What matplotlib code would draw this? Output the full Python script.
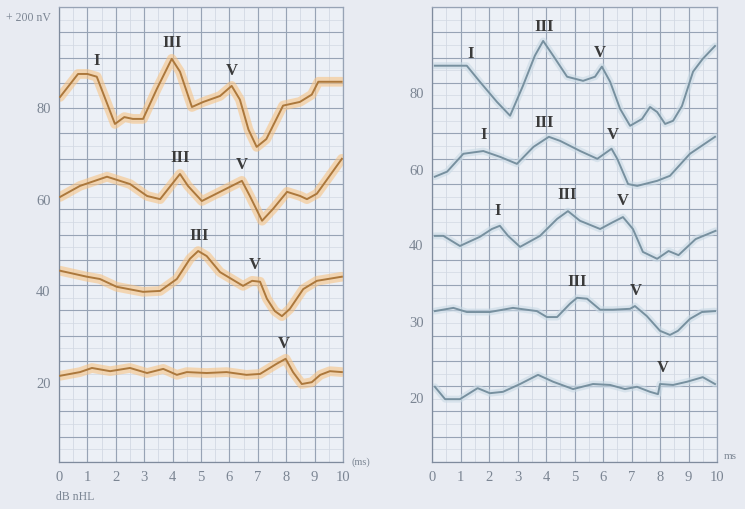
import numpy as np
import matplotlib
matplotlib.use("Agg")
import matplotlib.pyplot as plt

# ---------------- data ----------------
# Left panel (orange traces)
L80_t = [0.04, 0.67, 1.0, 1.33, 1.97, 2.3, 2.6, 2.96, 3.45, 3.97, 4.26, 4.68, 5.08, 5.67, 6.08, 6.37, 6.67, 6.96, 7.3, 7.89, 8.48, 8.9, 9.13, 9.95]
L80_v = [82.2, 87.2, 87.2, 86.6, 76.3, 77.8, 77.4, 77.4, 84.0, 90.5, 87.7, 80.0, 81.1, 82.4, 84.6, 81.6, 75.1, 71.3, 73.0, 80.3, 81.1, 82.7, 85.5, 85.5]
L60_t = [0.04, 0.74, 1.69, 2.5, 3.1, 3.56, 4.26, 4.54, 5.03, 5.67, 6.44, 6.72, 7.15, 7.54, 8.03, 8.49, 8.73, 9.08, 9.96]
L60_v = [60.4, 62.8, 64.8, 63.2, 60.6, 59.9, 65.4, 62.8, 59.5, 61.5, 63.9, 60.6, 55.2, 57.8, 61.5, 60.6, 59.9, 61.1, 68.7]
L40_t = [0.04, 0.98, 1.44, 2.03, 2.96, 3.56, 4.15, 4.61, 4.9, 5.2, 5.67, 6.48, 6.8, 7.08, 7.32, 7.6, 7.85, 8.13, 8.6, 9.08, 9.96]
L40_v = [44.3, 43.0, 42.5, 40.8, 39.7, 39.9, 42.5, 46.9, 48.6, 47.5, 44.0, 41.0, 42.1, 41.9, 38.2, 35.5, 34.4, 36.0, 40.3, 42.1, 43.0]
L20_t = [0.04, 0.74, 1.16, 1.8, 2.5, 3.1, 3.67, 4.15, 4.5, 5.2, 5.9, 6.6, 7.08, 7.66, 7.98, 8.24, 8.55, 8.9, 9.2, 9.54, 9.96]
L20_v = [21.4, 22.2, 23.1, 22.4, 23.1, 22.0, 22.9, 21.6, 22.2, 22.0, 22.2, 21.6, 21.8, 24.0, 25.1, 22.2, 19.6, 20.0, 21.6, 22.4, 22.2]

# Right panel (grey-blue traces)
R80_t = [0.1, 1.22, 1.68, 2.28, 2.74, 3.19, 3.61, 3.9, 4.25, 4.74, 5.3, 5.72, 5.96, 6.25, 6.6, 6.95, 7.37, 7.65, 7.9, 8.18, 8.46, 8.77, 9.16, 9.5, 9.93]
R80_v = [89.0, 89.0, 85.5, 81.1, 78.1, 84.6, 91.2, 94.4, 91.2, 86.6, 85.7, 86.6, 88.8, 85.5, 79.6, 75.9, 77.4, 80.0, 78.9, 76.3, 77.0, 80.2, 87.7, 90.5, 93.3]
R60_t = [0.1, 0.53, 1.1, 1.8, 2.4, 2.98, 3.56, 4.1, 4.5, 5.2, 5.8, 6.3, 6.5, 6.88, 7.2, 7.9, 8.35, 9.05, 9.93]
R60_v = [64.8, 65.9, 69.8, 70.4, 69.1, 67.6, 71.3, 73.5, 72.6, 70.4, 68.7, 70.9, 68.7, 63.2, 62.8, 63.9, 65.0, 69.8, 73.5]
R40_t = [0.1, 0.4, 0.98, 1.68, 2.1, 2.38, 2.67, 3.09, 3.79, 4.39, 4.77, 5.19, 5.9, 6.35, 6.7, 7.05, 7.4, 7.9, 8.3, 8.65, 9.25, 9.95]
R40_v = [51.9, 51.9, 49.7, 51.7, 53.4, 54.1, 51.9, 49.5, 51.9, 55.6, 57.3, 55.2, 53.4, 54.9, 56.0, 53.4, 48.4, 46.9, 48.6, 47.7, 51.2, 53.0]
R30_t = [0.1, 0.75, 1.22, 2.03, 2.84, 3.68, 4.03, 4.39, 4.84, 5.09, 5.44, 5.9, 6.35, 6.95, 7.12, 7.54, 8.0, 8.35, 8.63, 9.05, 9.47, 9.93]
R30_v = [35.5, 36.2, 35.3, 35.3, 36.2, 35.5, 34.2, 34.2, 37.1, 38.4, 38.2, 35.8, 35.8, 36.0, 36.6, 34.4, 31.2, 30.3, 31.2, 33.8, 35.3, 35.5]
R20_t = [0.1, 0.46, 0.98, 1.6, 2.03, 2.49, 3.09, 3.72, 4.25, 4.95, 5.65, 6.25, 6.77, 7.19, 7.65, 7.93, 8.0, 8.46, 8.95, 9.5, 9.93]
R20_v = [19.0, 16.3, 16.3, 18.7, 17.6, 17.9, 19.6, 21.6, 20.1, 18.5, 19.6, 19.4, 18.5, 19.0, 17.9, 17.4, 19.6, 19.4, 20.1, 21.1, 19.6]

# Peak labels: (name, latency in ms)
L80_peaks = [("I", 1.33), ("III", 3.97), ("V", 6.1)]
L60_peaks = [("III", 4.26), ("V", 6.44)]
L40_peaks = [("III", 4.95), ("V", 6.9)]
L20_peaks = [("V", 7.9)]
R80_peaks = [("I", 1.35), ("III", 3.95), ("V", 5.9)]
R60_peaks = [("I", 1.8), ("III", 3.95), ("V", 6.35)]
R40_peaks = [("I", 2.3), ("III", 4.75), ("V", 6.7)]
R30_peaks = [("III", 5.1), ("V", 7.15)]
R20_peaks = [("V", 8.1)]

x_ticks = [0, 1, 2, 3, 4, 5, 6, 7, 8, 9, 10]
left_yticks = [20, 40, 60, 80]
left_ylabels = ["20", "40", "60", "80"]
right_yticks = [16.8, 33.4, 50.1, 66.5, 83.3]
right_ylabels = ["20", "30", "40", "60", "80"]

# ---------------- style ----------------
BG = "#e8ebf2"
GRID_MAJ = "#97a3b5"
GRID_MIN = "#d2d9e3"
TXT = "#7b8593"

plt.rcParams["font.family"] = ["Liberation Serif", "DejaVu Serif"]

fig = plt.figure(figsize=(7.45, 5.10), dpi=100, facecolor=BG)
W, H = 745.0, 510.0
axL = fig.add_axes([59 / W, (H - 463) / H, (343 - 59) / W, (463 - 8) / H])
axR = fig.add_axes([432 / W, (H - 463) / H, (717 - 432) / W, (463 - 8) / H])

YLIM = (2.6, 101.8)


def style_axes(ax):
    ax.set_facecolor("#ecf0f6")
    ax.set_xlim(0, 10)
    ax.set_ylim(*YLIM)
    for t in np.arange(0, 10.01, 0.5):
        major = abs(t - round(t)) < 1e-6
        ax.axvline(t, color=GRID_MAJ if major else GRID_MIN,
                   lw=0.85 if major else 0.6, zorder=0.5)
    for f in np.linspace(0, 1, 19):
        ax.plot([0, 1], [f, f], transform=ax.transAxes, color=GRID_MAJ,
                lw=0.8, zorder=0.5)
    for f in np.linspace(0, 1, 37)[1::2]:
        ax.plot([0, 1], [f, f], transform=ax.transAxes, color=GRID_MIN,
                lw=0.5, zorder=0.4)
    for s in ax.spines.values():
        s.set_color(GRID_MAJ)
        s.set_linewidth(0.9)
    ax.spines["left"].set_color("#7f8b9d")
    ax.spines["bottom"].set_color("#7f8b9d")
    ax.set_xticks(x_ticks)
    ax.tick_params(length=0, labelsize=10.5, colors=TXT, pad=6)


style_axes(axL)
style_axes(axR)
axL.set_yticks(left_yticks)
axL.set_yticklabels(left_ylabels)
axR.set_yticks(right_yticks)
axR.set_yticklabels(right_ylabels)


def draw_trace(ax, t, v, peaks, line_c, halo_c, halo_alpha, halo_w):
    ax.plot(t, v, color=halo_c, lw=halo_w, alpha=halo_alpha,
            solid_capstyle="round", solid_joinstyle="round", zorder=2)
    ax.plot(t, v, color=line_c, lw=1.4, solid_joinstyle="round", zorder=3)
    for name, lat in peaks:
        yv = np.interp(lat, t, v)
        ax.text(lat, yv + 2.0, name, ha="center", va="bottom",
                fontsize=12, fontweight="bold", color="#3a3a3a", zorder=4)


ORANGE = "#ac783c"
ORANGE_HALO = "#f7c486"
BLUE = "#77909f"
BLUE_HALO = "#c9dae5"

for t, v, p in [(L80_t, L80_v, L80_peaks), (L60_t, L60_v, L60_peaks),
                (L40_t, L40_v, L40_peaks), (L20_t, L20_v, L20_peaks)]:
    draw_trace(axL, t, v, p, ORANGE, ORANGE_HALO, 0.6, 7)

for t, v, p in [(R80_t, R80_v, R80_peaks), (R60_t, R60_v, R60_peaks),
                (R40_t, R40_v, R40_peaks), (R30_t, R30_v, R30_peaks),
                (R20_t, R20_v, R20_peaks)]:
    draw_trace(axR, t, v, p, BLUE, BLUE_HALO, 0.6, 5)

# annotations
fig.text(6 / W, 1 - 18 / H, "+ 200 nV", fontsize=8.5, color=TXT,
         ha="left", va="center")
fig.text(56 / W, 1 - 497 / H, "dB nHL", fontsize=8.5, color=TXT,
         ha="left", va="center")
fig.text(352 / W, 1 - 462 / H, "(ms)", fontsize=7.5, color=TXT,
         ha="left", va="center")
fig.text(724 / W, 1 - 457 / H, "ms", fontsize=8, color=TXT,
         ha="left", va="center")

fig.savefig("out.png", dpi=100, facecolor=BG)
